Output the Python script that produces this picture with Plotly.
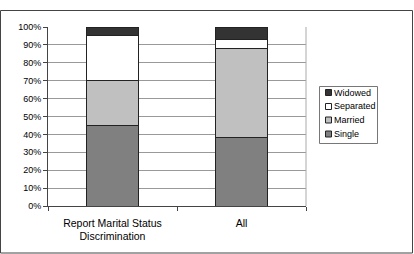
import plotly.graph_objects as go

categories = ["Report Marital Status<br>Discrimination", "All"]
series_names = ["Single", "Married", "Separated", "Widowed"]
single = [45, 38]
married = [25, 50]
separated = [25, 5]
widowed = [5, 7]
tick_vals = [0, 10, 20, 30, 40, 50, 60, 70, 80, 90, 100]
tick_text = [f"{v}%" for v in tick_vals]

colors = ["#808080", "#c0c0c0", "#ffffff", "#333333"]
values = [single, married, separated, widowed]

W, H = 414, 254
L, R, T, B = 48, 306, 27, 206

fig = go.Figure()
for name, vals, col in zip(series_names, values, colors):
    fig.add_trace(go.Bar(
        x=categories, y=vals, name=name,
        marker=dict(color=col, line=dict(color="#222222", width=1)),
    ))

def px(x):
    return (x - L) / (R - L)

def py(y):
    return (B - y) / (B - T)

shapes = [
    dict(type="line", xref="paper", yref="paper", x0=1, x1=1, y0=0, y1=1,
         line=dict(color="#aaaaaa", width=1)),
    dict(type="rect", xref="paper", yref="paper",
         x0=px(0.5), x1=px(412.5), y0=py(253), y1=py(10.5),
         line=dict(color="#444444", width=1), layer="below"),
    # legend box
    dict(type="rect", xref="paper", yref="paper",
         x0=px(319.5), x1=px(377.5), y0=py(143.5), y1=py(86.5),
         line=dict(color="#777777", width=1), fillcolor="white"),
]
annotations = []
legend_y = [134, 120, 106.5, 92.5]  # Single, Married, Separated, Widowed
for name, col, yc in zip(series_names, colors, legend_y):
    shapes.append(dict(type="rect", xref="paper", yref="paper",
                       x0=px(325.5), x1=px(331.5), y0=py(yc + 3), y1=py(yc - 3),
                       line=dict(color="#222222", width=1), fillcolor=col))
    annotations.append(dict(xref="paper", yref="paper", x=px(332), y=py(yc),
                            text=name, showarrow=False, xanchor="left", yanchor="middle",
                            font=dict(size=9, color="#000000")))

fig.update_layout(
    width=W, height=H,
    margin=dict(l=L, r=W - R, t=T, b=H - B),
    barmode="stack", bargap=0.6,
    paper_bgcolor="white", plot_bgcolor="white",
    font=dict(family="Liberation Sans, Arial", size=10, color="#000000"),
    showlegend=False,
    xaxis=dict(
        showline=True, linecolor="#444444", linewidth=1,
        ticks="outside", ticklen=4, tickcolor="#444444", tickson="boundaries",
        tickfont=dict(size=10.5), showgrid=False, ticklabelstandoff=7,
    ),
    yaxis=dict(
        range=[0, 100], tickvals=tick_vals, ticktext=tick_text,
        showline=True, linecolor="#444444", linewidth=1,
        ticks="outside", ticklen=4, tickcolor="#444444",
        showgrid=True, gridcolor="#999999", gridwidth=1,
        tickfont=dict(size=9), zeroline=False,
    ),
    shapes=shapes,
    annotations=annotations,
)

fig.write_html("out.html")
